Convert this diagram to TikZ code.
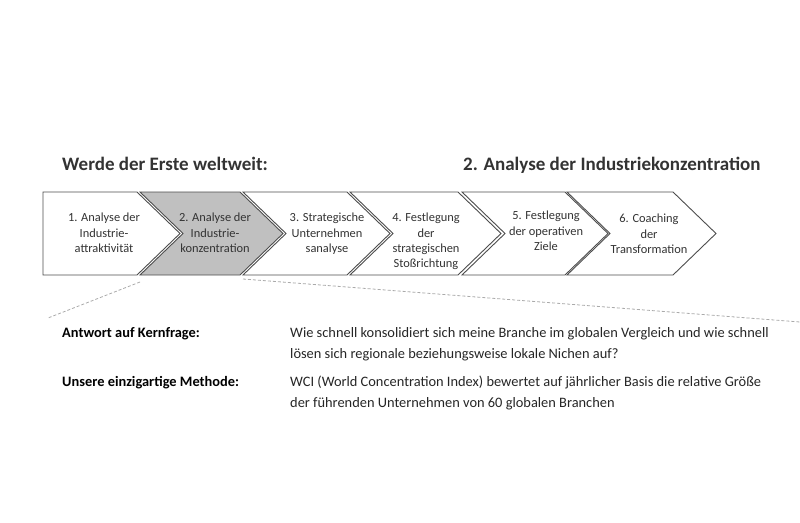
\documentclass[tikz,border=0pt]{standalone}
\usepackage{fontspec}
\setmainfont{Carlito}
\definecolor{txt}{HTML}{333333}
\definecolor{edge}{HTML}{4D4D4D}
\definecolor{hl}{HTML}{C0C0C0}
\definecolor{dash}{HTML}{AAAAAA}
\begin{document}
\begin{tikzpicture}[x=1pt,y=-1pt,
  chev/.style={draw=edge,line width=0.9pt,fill=white,line join=miter},
  chevhl/.style={chev,fill=hl},
  boxtxt/.style={anchor=north,align=center,font=\fontsize{12.4}{15.3}\selectfont,text=txt,inner sep=0pt},
  title/.style={anchor=base west,font=\fontsize{19}{22}\selectfont\bfseries,text=txt,inner sep=0pt},
  lbl/.style={anchor=base west,font=\fontsize{14.4}{21}\selectfont\bfseries,text=black,inner sep=0pt},
  body/.style={anchor=base west,align=left,font=\fontsize{14.4}{21}\selectfont,text=black!85,inner sep=0pt},
  guide/.style={draw=dash,line width=0.8pt,dash pattern=on 3pt off 2pt}]
\useasboundingbox[fill=white] (0,0) rectangle (800,522);

% titles
\node[title] (t1) at (62,170) {Werde der Erste weltweit:};
\node[title] (t2) at (463,170) {2. Analyse der Industriekonzentration};

% chevrons
\draw[chev] (43,192) -- (137,192) -- (180,233.5) -- (137,275) -- (43,275) -- cycle;
\draw[chevhl] (140,192) -- (240,192) -- (283,233.5) -- (240,275) -- (140,275) -- (183,233.5) -- cycle;
\draw[chev] (243,192) -- (347,192) -- (390,233.5) -- (347,275) -- (243,275) -- (286,233.5) -- cycle;
\draw[chev] (350,192) -- (458,192) -- (501,233.5) -- (458,275) -- (350,275) -- (393,233.5) -- cycle;
\draw[chev] (462,192) -- (565,192) -- (608,233.5) -- (565,275) -- (462,275) -- (505,233.5) -- cycle;
\draw[chev] (567,192) -- (673,192) -- (716,233.5) -- (673,275) -- (567,275) -- (610,233.5) -- cycle;

% chevron texts
\node[boxtxt] (s1) at (104,213) {1. Analyse der\\Industrie-\\attraktivität};
\node[boxtxt] (s2) at (215,213) {2. Analyse der\\Industrie-\\konzentration};
\node[boxtxt] (s3) at (327,213) {3. Strategische\\Unternehmen\\sanalyse};
\node[boxtxt] (s4) at (426,213) {4. Festlegung\\der\\strategischen\\Stoßrichtung};
\node[boxtxt] (s5) at (546,211) {5. Festlegung\\der operativen\\Ziele};
\node[boxtxt] (s6) at (649,214) {6. Coaching\\der\\Transformation};

% dashed guide lines
\coordinate (gl1) at (140,282);
\coordinate (gl2) at (48,318);
\coordinate (gr1) at (243,279);
\coordinate (gr2) at (800,322);
\draw[guide] (gl1) -- (gl2);
\draw[guide] (gr1) -- (gr2);

% bottom texts
\node[lbl] (l1) at (62,337) {Antwort auf Kernfrage:};
\node[body] (b1) at (290,358) {Wie schnell konsolidiert sich meine Branche im globalen Vergleich und wie schnell\\lösen sich regionale beziehungsweise lokale Nichen auf?};
\node[lbl] (l2) at (62,386) {Unsere einzigartige Methode:};
\node[body] (b2) at (290,407) {WCI (World Concentration Index) bewertet auf jährlicher Basis die relative Größe\\der führenden Unternehmen von 60 globalen Branchen};
\end{tikzpicture}
\end{document}
